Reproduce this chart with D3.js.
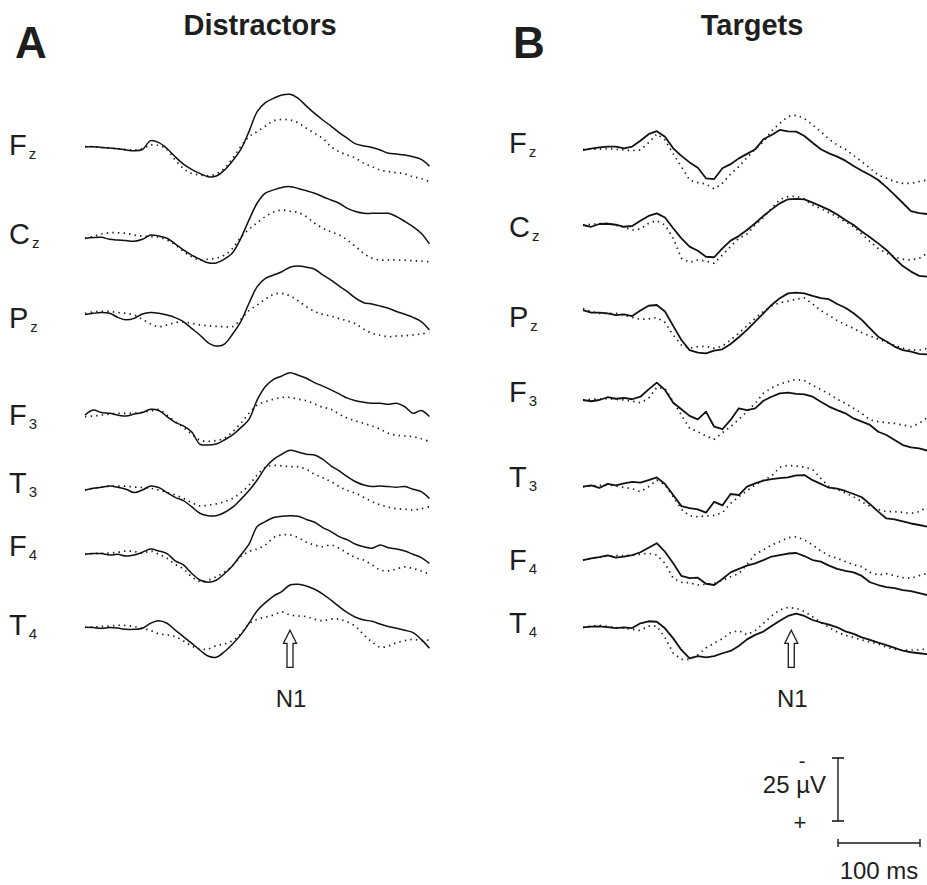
<!DOCTYPE html>
<html>
<head>
<meta charset="utf-8">
<script src="https://cdn.jsdelivr.net/npm/d3@7"></script>
<style>
  body { margin: 0; background: #fff; }
  svg { display: block; }
  text { font-family: "Liberation Sans", Arial, Helvetica, sans-serif; fill: #1e1e1e; }
</style>
</head>
<body>
<svg id="chart" width="927" height="885"></svg>
<script>
// ---- Data: grand-average ERPs (µV, negative up), sampled every 10 ms from -100 to 320 ms ----
const electrodes = ["Fz", "Cz", "Pz", "F3", "T3", "F4", "T4"];
const times = d3.range(-100, 321, 10);
const panelTitles = ["Distractors", "Targets"];
const panelLetters = ["A", "B"];
const n1Latency = [150, 154];      // ms, marked with an arrow
const scaleBarAmplitude = 25;      // µV
const scaleBarDuration = 100;      // ms

// Distractors
const distFzSolid  = [0,0,0.3,0.5,0.8,1.3,1.6,1.1,-2.4,-1.6, 0.7,4.0,6.9,9.0,10.6,11.9,11.6,9.3,5.6,1.1, -6.0,-13.9,-17.5,-19.2,-20.5,-20.8,-19.2,-16.1,-13.2,-10.6, -8.2,-5.6,-3.3,-1.1,-0.3,0.3,1.3,2.6,2.9,3.3, 4.0,5.0,7.7];
const distFzDotted = [0,0,0.3,0.5,0.8,1.1,1.3,0.8,-0.7,-0.5, 1.1,5.3,8.6,10.6,11.2,11.6,10.8,8.6,4.6,0, -4.0,-6.0,-8.2,-10.3,-10.8,-10.6,-9.5,-7.3,-5.3,-3.3, 0,2.0,3.3,4.6,6.6,7.9,9.3,9.9,10.3,10.8, 11.9,12.6,13.9];
const distCzSolid  = [0,-0.3,-0.4,0.4,0.7,0.9,1.2,0.4,-1.3,-0.9, 0,2.2,4.6,6.7,8.3,9.7,9.8,8.3,5.7,0, -7.3,-14.0,-17.9,-19.2,-20.2,-20.5,-19.8,-18.9,-17.9,-16.5, -15.2,-13.9,-11.9,-10.6,-9.9,-9.9,-9.9,-9.9,-8.6,-6.7, -4.6,-2.0,2.2];
const distCzDotted = [0,-0.7,-1.7,-2.2,-2.2,-2.0,-1.3,-0.9,-0.7,-0.4, 0.7,2.6,5.2,7.3,8.6,8.3,7.9,6.7,4.0,-0.4, -3.6,-6.2,-8.6,-10.4,-11.2,-10.7,-10.2,-8.6,-6.0,-4.0, -2.6,-1.3,0.7,3.3,6.0,7.9,8.6,8.6,8.6,8.7, 8.9,9.0,9.3];
const distPzSolid  = [0.5,0,-0.3,0,1.6,2.6,2.0,0.3,-0.3,0, 0.7,1.7,3.3,6.0,8.6,11.6,13.0,12.2,8.2,3.3, -4.0,-10.6,-13.9,-15.2,-16.5,-18.3,-18.8,-18.3,-17.5,-15.2, -13.2,-10.8,-8.6,-6.0,-4.2,-3.7,-2.9,-2.0,-0.7,0.4, 1.6,3.3,6.6];
const distPzDotted = [0,-0.5,-0.8,-0.7,-0.3,0,0.7,2.4,4.2,5.3, 4.6,3.7,3.4,4.0,4.6,4.9,5.2,5.3,5.3,2.4, -1.1,-3.3,-5.6,-7.5,-7.9,-6.9,-5.0,-2.6,-0.7,0.4, 1.1,2.1,3.0,4.2,6.3,7.9,8.7,9.3,9.0,8.9, 8.6,8.2,7.7];
const distF3Solid  = [0.7,-1.3,-0.3,0,0.7,1.1,0.3,-0.3,-1.6,-1.1, 1.3,3.6,5.0,7.3,12.2,12.6,12.2,10.6,8.6,5.7, 2.4,-5.3,-10.6,-13.5,-14.8,-16.1,-15.1,-13.9,-12.2,-10.8, -9.3,-7.7,-6.0,-5.0,-4.4,-4.0,-4.0,-3.6,-4.0,-2.6, 0,-1.1,1.3];
const distF3Dotted = [1.3,1.1,0.7,0.3,0,0,-0.1,-0.4,-0.9,-1.5, 0.7,3.3,5.6,8.2,10.6,11.1,10.8,9.9,7.3,4.0, 0,-3.3,-4.6,-5.6,-6.3,-6.3,-5.6,-5.0,-3.7,-2.4, -1.6,0.3,2.0,3.0,4.0,5.0,6.3,7.9,8.7,9.0, 9.3,10.1,11.2];
const distT3Solid  = [0.7,0,-0.4,-0.9,-0.4,0.4,1.7,0.7,-0.9,-0.3, 1.7,3.6,4.9,7.3,9.9,10.9,10.9,9.6,7.5,4.4, 0.9,-3.3,-8.2,-11.5,-13.5,-15.1,-14.4,-13.5,-13.2,-11.5, -8.9,-6.9,-4.6,-2.6,-1.3,-0.7,-0.9,-0.7,-0.4,-0.7, 0.4,1.3,4.0];
const distT3Dotted = [0.7,0,-0.5,-0.8,-0.9,-0.8,-0.5,-0.3,0,0.7, 1.7,2.6,4.0,5.6,7.0,6.7,6.2,5.3,4.0,1.7, -1.3,-5.3,-8.3,-9.1,-8.9,-8.6,-8.5,-7.5,-5.6,-4.2, -2.6,-0.7,0.9,2.0,3.6,5.3,6.6,7.5,8.1,8.3, 8.6,8.1,7.3];
const distF4Solid  = [0,-0.3,-0.3,0.3,0,0.7,0.3,-0.8,-2.1,-1.3, -0.3,2.6,4.2,7.5,10.2,11.1,10.3,7.7,4.5,0.3, -4.0,-11.0,-13.0,-14.6,-15.1,-15.3,-15.1,-13.8,-12.7,-10.6, -9.0,-7.0,-5.7,-4.0,-3.0,-2.4,-3.7,-2.6,-2.1,-1.3, 0,1.3,3.6];
const distF4Dotted = [0,-0.3,-0.4,-0.5,-0.8,-1.3,-1.1,-0.4,-1.3,0, 1.6,4.0,5.8,8.9,10.8,10.3,8.9,7.1,4.5,0.9, -1.1,-2.1,-3.7,-6.6,-7.7,-7.7,-6.6,-4.8,-3.7,-3.0, -3.7,-2.4,-0.4,1.3,2.3,4.2,6.2,6.6,5.8,5.0, 5.6,6.6,7.9];
const distT4Solid  = [0,0.1,0.4,0.1,0.3,0.8,0.8,0.4,-1.6,-2.6, -1.6,1.1,3.7,6.3,9.0,11.4,11.9,9.7,6.6,3.0, -1.6,-6.6,-9.8,-12.4,-14.2,-16.8,-17.1,-16.4,-15.1,-13.2, -10.8,-8.2,-5.8,-4.0,-2.9,-2.4,-1.3,-0.3,0.4,1.2, 2.1,4.8,8.3];
const distT4Dotted = [0,-0.1,-0.3,-0.5,-0.8,-0.7,-0.3,0.4,1.3,2.6, 3.0,3.7,5.4,7.4,8.7,8.6,7.3,6.6,5.3,2.6, -1.3,-3.2,-4.0,-4.9,-6.1,-4.9,-4.5,-4.2,-3.2,-2.6, -3.3,-3.2,-2.1,-0.3,3.0,5.8,7.9,7.4,6.1,5.3, 4.8,5.3,5.0];

// Targets
const targFzSolid  = [0.7,0.1,-0.4,-0.7,-0.7,0,-0.7,-3.0,-5.6,-6.8, -4.6,0,3.0,5.6,7.7,11.9,12.2,7.9,6.3,4.0, 2.2,0.4,-3.6,-5.3,-7.3,-6.7,-6.6,-4.9,-2.2,0.4, 2.0,3.3,4.9,7.0,8.9,10.6,12.6,15.4,18.5,21.7, 24.9,25.7,26.1];
const targFzDotted = [0.4,0.3,0.3,0.1,0.4,0.7,0.9,0.7,-2.2,-5.7, -3.3,2.2,7.3,12.6,13.6,14.2,16.1,13.9,10.2,7.3, 3.7,0.4,-2.6,-6.9,-9.9,-12.6,-13.1,-11.8,-9.3,-6.6, -3.6,-1.3,0.4,2.9,5.3,7.9,10.6,11.9,13.2,13.9, 13.9,13.2,12.6];
const targCzSolid  = [0,0.7,-0.4,-0.5,-0.1,0.7,0.4,-1.7,-3.6,-4.6, -3.0,1.3,5.3,8.6,10.2,12.6,12.8,9.3,6.2,4.4, 2.0,-0.7,-3.6,-6.2,-8.6,-10.2,-10.4,-10.2,-8.9,-7.5, -6.0,-4.2,-2.0,0,2.6,4.9,7.3,9.9,13.2,16.3, 18.5,20.2,20.5];
const targCzDotted = [0,-0.3,-0.5,-0.7,0.1,0.9,2.0,1.6,-0.7,-1.7, 0,5.3,13.2,14.8,13.9,14.3,15.2,11.9,8.6,5.3, 3.6,0,-3.0,-6.6,-10.2,-11.2,-11.5,-10.2,-7.9,-6.6, -4.9,-3.3,-1.3,0.7,3.6,6.6,9.3,11.2,12.6,13.6, 13.9,13.2,11.2];
const targPzSolid  = [-1.3,-0.3,-0.3,0,0.7,0.4,1.1,-1.1,-3.0,-3.3, -0.7,5.0,10.6,14.6,15.6,15.9,14.8,14.3,12.2,9.5, 6.6,3.3,0,-3.3,-6.0,-7.9,-8.2,-7.9,-6.9,-6.0, -5.6,-3.7,-2.2,0,2.6,6.0,9.3,11.2,13.2,14.6, 15.2,16.1,16.3];
const targPzDotted = [-1.9,-0.7,0,0,0,0.7,1.6,2.4,2.2,1.7, 3.7,8.6,12.6,13.9,13.2,13.1,13.9,13.0,10.6,7.9, 5.0,2.0,-0.7,-2.9,-4.2,-4.8,-5.6,-6.1,-3.7,-1.1, 0.8,2.9,4.5,6.0,7.7,9.0,10.3,11.4,12.7,13.9, 14.6,14.6,13.9];
const targF3Solid  = [0,0.5,0,-1.1,-0.5,-0.8,-0.3,-1.3,-4.2,-6.9, -4.0,1.1,3.7,6.3,7.7,4.6,10.6,11.6,7.9,3.3, 4.0,3.3,0.3,-1.3,-2.6,-2.9,-2.4,-2.2,-1.3,0.7, 2.6,4.0,5.3,7.3,8.6,9.9,12.6,13.9,15.9,17.9, 18.8,19.2,20.1];
const targF3Dotted = [0,-0.3,-0.4,-0.5,-0.3,0,0.5,1.1,-0.7,-5.0, -4.6,0.7,6.0,11.2,12.6,14.3,15.6,13.0,10.6,7.7, 4.6,1.3,-2.6,-4.8,-6.3,-7.3,-8.2,-7.7,-5.8,-4.2, -2.4,-0.3,1.3,3.3,5.3,7.9,8.6,9.0,9.3,9.9, 10.6,9.3,6.9];
const targT3Solid  = [0,-0.5,0.5,-1.1,-0.5,-1.3,-1.9,-1.6,-2.6,-3.7, -1.1,3.3,7.7,8.5,9.0,10.3,6.0,7.4,2.9,3.3, 0,-1.3,-2.4,-3.0,-3.4,-3.7,-4.5,-4.6,-2.6,-1.1, 0.4,0.8,1.7,2.9,4.2,6.9,9.9,12.6,13.0,13.8, 14.6,15.2,15.9];
const targT3Dotted = [0,-0.3,-0.5,-0.7,-0.3,0.3,0.8,2.0,0,-2.6, -0.7,4.0,9.0,11.6,11.9,11.6,11.4,10.3,6.6,4.0, 1.6,-0.7,-2.6,-4.2,-7.7,-8.5,-8.2,-7.7,-6.9,-3.3, 0,1.1,2.4,4.0,6.0,7.7,9.0,9.9,9.9,10.2, 10.6,9.9,7.9];
const targF4Solid  = [0.7,0,-0.5,-1.2,-0.3,-0.7,-1.3,-2.4,-4.2,-6.0, -2.6,2.0,7.0,7.9,7.7,10.1,10.6,8.2,5.6,4.2, 2.9,2.0,0.7,-0.7,-1.3,-1.9,-2.1,-0.9,0.7,1.3, 2.9,4.2,5.0,5.6,7.0,9.5,10.6,11.4,11.8,12.6, 13.0,13.8,14.6];
const targF4Dotted = [0.7,0,-0.5,-0.9,-1.1,-1.1,-1.3,-1.6,-2.0,-1.3, 2.0,7.9,9.5,9.7,10.6,10.3,9.9,8.7,7.3,6.1, 2.4,-1.6,-3.3,-5.3,-6.6,-8.2,-8.5,-7.3,-5.3,-2.9, -1.1,0,1.3,2.6,3.3,5.6,6.6,6.1,6.9,7.7, 7.9,6.9,6.0];
const targT4Solid  = [0,-0.3,-0.4,-0.1,0.3,0,0.3,-1.6,-2.4,-2.2, 0.4,4.4,9.0,12.3,11.4,11.9,11.4,10.3,9.4,7.4, 4.8,3.0,1.7,-0.5,-2.6,-4.5,-5.4,-4.5,-2.9,-1.9, -1.1,0,1.6,2.6,4.0,5.0,6.1,7.1,8.2,9.3, 9.9,10.3,10.7];
const targT4Dotted = [0,-0.5,-0.8,-0.3,0.1,0.4,0.8,1.3,-0.5,-0.5, 4.0,10.3,12.7,12.7,11.0,8.2,6.3,4.5,2.1,1.3, 3.0,1.3,-1.6,-4.5,-6.9,-7.9,-7.5,-6.3,-4.2,-1.9, 0,1.9,3.2,4.0,5.0,5.8,6.6,7.9,8.7,9.0, 9.0,9.0,8.5];

const solidTraces = [
  [distFzSolid, distCzSolid, distPzSolid, distF3Solid, distT3Solid, distF4Solid, distT4Solid],
  [targFzSolid, targCzSolid, targPzSolid, targF3Solid, targT3Solid, targF4Solid, targT4Solid]
];
const dottedTraces = [
  [distFzDotted, distCzDotted, distPzDotted, distF3Dotted, distT3Dotted, distF4Dotted, distT4Dotted],
  [targFzDotted, targCzDotted, targPzDotted, targF3Dotted, targT3Dotted, targF4Dotted, targT4Dotted]
];

// ---- Layout ----
const layout = [
  { left: 85,  titleX: 260, letterX: 15,  labelX: 9,
    rows:   [146.7, 238.3, 313.3, 413.3, 488.3, 554.3, 627.3],
    labels: [155, 244, 328, 425, 493, 556, 635],
    curve: d3.curveCatmullRom.alpha(0.5) },
  { left: 583, titleX: 752, letterX: 513, labelX: 509,
    rows:   [148.3, 225, 313.3, 400, 486.7, 558.3, 627.3],
    labels: [153, 237, 327, 402, 487, 570, 633],
    curve: d3.curveLinear }
];

const svg = d3.select("#chart");

// time: 82 px per 100 ms; amplitude: 63 px per 25 µV (negative up)
const x = d3.scaleLinear().domain([-100, 320]).range([0, 344.4]);
const y = d3.scaleLinear().domain([0, 25]).range([0, 63]);

layout.forEach((L, p) => {
  const g = svg.append("g");

  g.append("text")
    .attr("x", L.letterX).attr("y", 58)
    .attr("font-size", 44).attr("font-weight", "bold")
    .text(panelLetters[p]);

  g.append("text")
    .attr("x", L.titleX).attr("y", 35)
    .attr("text-anchor", "middle")
    .attr("font-size", 29).attr("font-weight", "bold")
    .text(panelTitles[p]);

  electrodes.forEach((name, i) => {
    const label = g.append("text")
      .attr("x", L.labelX).attr("y", L.labels[i])
      .attr("font-size", 29);
    label.append("tspan").text(name[0]);
    label.append("tspan").attr("font-size", 15).attr("dx", 2).attr("dy", 4).text(name.slice(1));

    const row = g.append("g").attr("transform", `translate(${L.left},${L.rows[i]})`);
    const line = d3.line()
      .x((d, j) => x(times[j]))
      .y(d => y(d))
      .curve(L.curve);

    row.append("path")
      .attr("d", line(dottedTraces[p][i]))
      .attr("fill", "none")
      .attr("stroke", "#1a1a1a")
      .attr("stroke-width", 1.7)
      .attr("stroke-dasharray", "1.4 4.2");

    row.append("path")
      .attr("d", line(solidTraces[p][i]))
      .attr("fill", "none")
      .attr("stroke", "#111")
      .attr("stroke-width", p === 0 ? 1.5 : 1.8)
      .attr("stroke-linejoin", "round");
  });

  // N1 marker: hollow upward arrow under the T4 trace
  const ax = L.left + x(n1Latency[p]);
  const tip = L.rows[6] + 3;
  const arrow = d3.path();
  arrow.moveTo(ax, tip);
  arrow.lineTo(ax + 6.5, tip + 13);
  arrow.lineTo(ax + 3, tip + 13);
  arrow.lineTo(ax + 3, tip + 37);
  arrow.lineTo(ax - 3, tip + 37);
  arrow.lineTo(ax - 3, tip + 13);
  arrow.lineTo(ax - 6.5, tip + 13);
  arrow.closePath();
  g.append("path").attr("d", arrow.toString())
    .attr("fill", "#fff").attr("stroke", "#1a1a1a").attr("stroke-width", 1.3);

  g.append("text")
    .attr("x", ax + 1).attr("y", 707)
    .attr("text-anchor", "middle").attr("font-size", 24)
    .text("N1");
});

// ---- Calibration bars ----
const cal = svg.append("g");
const bx = 838, by = 758;
const barH = y(scaleBarAmplitude);
const barW = x(-100 + scaleBarDuration) - x(-100);

cal.append("line").attr("x1", bx).attr("x2", bx).attr("y1", by).attr("y2", by + barH)
  .attr("stroke", "#1a1a1a").attr("stroke-width", 1.4);
[by, by + barH].forEach(v => cal.append("line")
  .attr("x1", bx - 6).attr("x2", bx + 6).attr("y1", v).attr("y2", v)
  .attr("stroke", "#1a1a1a").attr("stroke-width", 1.6));

cal.append("text").attr("x", 826).attr("y", 793).attr("text-anchor", "end")
  .attr("font-size", 24).text(`${scaleBarAmplitude} µV`);
cal.append("text").attr("x", 802).attr("y", 768).attr("text-anchor", "middle")
  .attr("font-size", 20).text("-");
cal.append("text").attr("x", 800).attr("y", 830).attr("text-anchor", "middle")
  .attr("font-size", 22).text("+");

const hy = 843;
cal.append("line").attr("x1", bx).attr("x2", bx + barW).attr("y1", hy).attr("y2", hy)
  .attr("stroke", "#1a1a1a").attr("stroke-width", 1.4);
[bx, bx + barW].forEach(v => cal.append("line")
  .attr("x1", v).attr("x2", v).attr("y1", hy - 4).attr("y2", hy + 4)
  .attr("stroke", "#1a1a1a").attr("stroke-width", 1.4));

cal.append("text").attr("x", bx + barW / 2).attr("y", 879).attr("text-anchor", "middle")
  .attr("font-size", 24).text(`${scaleBarDuration} ms`);
</script>
</body>
</html>
